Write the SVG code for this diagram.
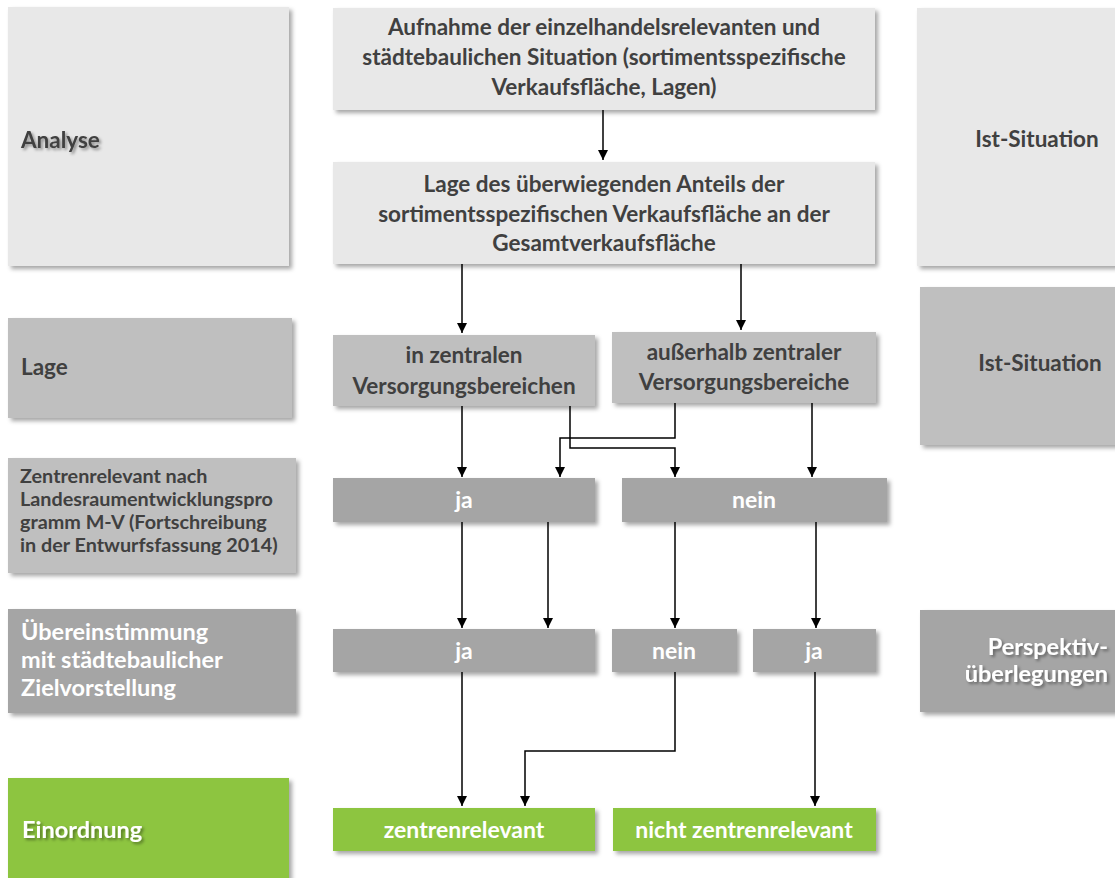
<svg xmlns="http://www.w3.org/2000/svg" width="1115" height="878" viewBox="0 0 1115 878">
<defs>
<filter id="sh" x="-5%" y="-5%" width="115%" height="125%">
<feDropShadow dx="3" dy="3" stdDeviation="2" flood-color="#000" flood-opacity="0.35"/>
</filter>
<filter id="tsh" x="-10%" y="-30%" width="130%" height="180%">
<feDropShadow dx="2" dy="2" stdDeviation="1.8" flood-color="#000" flood-opacity="0.4"/>
</filter>
<marker id="ah" viewBox="0 0 10 10" refX="10" refY="5" markerWidth="10" markerHeight="10" markerUnits="userSpaceOnUse" orient="auto">
<path d="M0,0 L10,5 L0,10 z" fill="#000"/>
</marker>
</defs>
<style>
text{font-family:Lato,"Open Sans","Liberation Sans",sans-serif;font-weight:bold}
.l{fill:#e8e8e8;filter:url(#sh)}
.m{fill:#bfbfbf;filter:url(#sh)}
.d{fill:#a5a5a5;filter:url(#sh)}
.g{fill:#8dc540;filter:url(#sh)}
.t{fill:#404040;font-size:22.5px}
.tc{fill:#404040;font-size:22.5px;text-anchor:middle}
.w{fill:#fff;font-size:23px;text-anchor:middle}
.wl{fill:#fff;font-size:23.5px}
.s{fill:#404040;font-size:19.8px}
.c{fill:none;stroke:#000;stroke-width:1.5;marker-end:url(#ah)}
</style>
<rect width="1115" height="878" fill="#fff"/>

<g id="analyse"><rect class="l" x="8" y="7" width="281" height="259"/><text class="t" x="21" y="148" filter="url(#tsh)">Analyse</text></g>
<g id="lage"><rect class="m" x="8" y="318" width="284" height="100"/><text class="t" x="21" y="375">Lage</text></g>
<g id="zentrenrelevant-lep"><rect class="m" x="8" y="458" width="288" height="115"/>
<text class="s"><tspan x="20" y="483">Zentrenrelevant nach</tspan><tspan x="20" y="506">Landesraumentwicklungspro</tspan><tspan x="20" y="529">gramm M-V (Fortschreibung</tspan><tspan x="20" y="552">in der Entwurfsfassung 2014)</tspan></text></g>
<g id="uebereinstimmung"><rect class="d" x="8" y="609" width="288" height="104"/>
<text class="wl"><tspan x="21" y="640">Übereinstimmung</tspan><tspan x="21" y="668">mit städtebaulicher</tspan><tspan x="21" y="696">Zielvorstellung</tspan></text></g>
<g id="einordnung"><rect class="g" x="8" y="778" width="281" height="110"/><text class="wl" x="22" y="838" filter="url(#tsh)">Einordnung</text></g>

<g id="aufnahme"><rect class="l" x="333" y="8" width="542" height="102"/>
<text class="tc"><tspan x="604" y="35">Aufnahme der einzelhandelsrelevanten und</tspan><tspan x="604" y="65">städtebaulichen Situation (sortimentsspezifische</tspan><tspan x="604" y="95">Verkaufsfläche, Lagen)</tspan></text></g>
<g id="lage-anteil"><rect class="l" x="333" y="162" width="542" height="102"/>
<text class="tc"><tspan x="604" y="192">Lage des überwiegenden Anteils der</tspan><tspan x="604" y="222">sortimentsspezifischen Verkaufsfläche an der</tspan><tspan x="604" y="251">Gesamtverkaufsfläche</tspan></text></g>
<g id="in-zentralen"><rect class="m" x="333" y="335" width="262" height="71"/>
<text class="tc"><tspan x="464" y="363">in zentralen</tspan><tspan x="464" y="394">Versorgungsbereichen</tspan></text></g>
<g id="ausserhalb"><rect class="m" x="612" y="332" width="264" height="71"/>
<text class="tc"><tspan x="744" y="360">außerhalb zentraler</tspan><tspan x="744" y="390">Versorgungsbereiche</tspan></text></g>
<g id="ja1"><rect class="d" x="333" y="478" width="262" height="44"/><text class="w" x="464" y="508">ja</text></g>
<g id="nein1"><rect class="d" x="622" y="478" width="265" height="44"/><text class="w" x="754" y="508">nein</text></g>
<g id="ja2"><rect class="d" x="333" y="629" width="262" height="43"/><text class="w" x="464" y="659">ja</text></g>
<g id="nein2"><rect class="d" x="612" y="629" width="125" height="43"/><text class="w" x="674" y="659">nein</text></g>
<g id="ja3"><rect class="d" x="753" y="629" width="123" height="43"/><text class="w" x="814" y="659">ja</text></g>
<g id="zentrenrelevant"><rect class="g" x="333" y="808" width="262" height="43"/><text class="w" x="464" y="838">zentrenrelevant</text></g>
<g id="nicht-zentrenrelevant"><rect class="g" x="613" y="808" width="263" height="43"/><text class="w" x="744" y="838">nicht zentrenrelevant</text></g>

<g id="ist1"><rect class="l" x="917" y="8" width="210" height="258"/><text class="tc" x="1037" y="147">Ist-Situation</text></g>
<g id="ist2"><rect class="m" x="920" y="287" width="210" height="158"/><text class="tc" x="1040" y="371">Ist-Situation</text></g>
<g id="perspektiv"><rect class="d" x="920" y="610" width="210" height="102"/>
<text class="wl" text-anchor="end" filter="url(#tsh)"><tspan x="1108" y="655">Perspektiv-</tspan><tspan x="1108" y="682">überlegungen</tspan></text></g>

<g id="connectors">
<path class="c" d="M603,110 V160"/>
<path class="c" d="M462,264 V333"/>
<path class="c" d="M741,264 V330"/>
<path class="c" d="M462,406 V477"/>
<path class="c" d="M675,403 V438 H560 V477"/>
<path class="c" d="M570,406 V448 H675 V477"/>
<path class="c" d="M812,403 V477"/>
<path class="c" d="M462,522 V628"/>
<path class="c" d="M548,522 V628"/>
<path class="c" d="M675,522 V628"/>
<path class="c" d="M816,522 V628"/>
<path class="c" d="M462,672 V806"/>
<path class="c" d="M675,672 V751 H525 V806"/>
<path class="c" d="M815,672 V806"/>
</g>
</svg>
